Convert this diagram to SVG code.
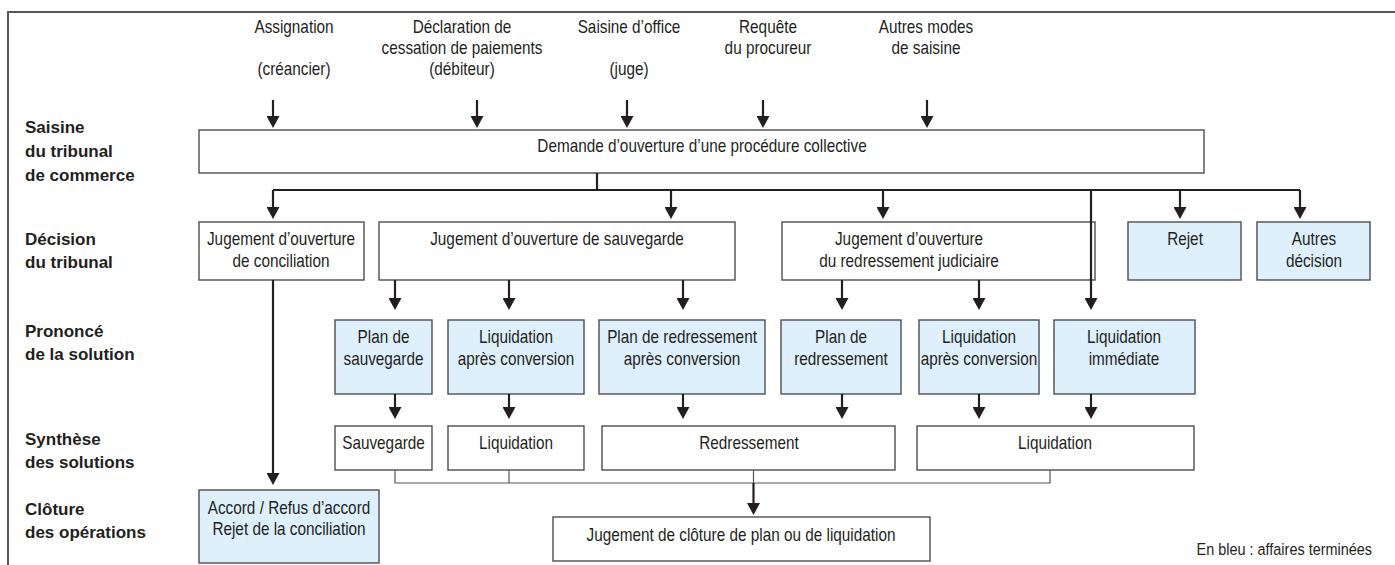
<svg xmlns="http://www.w3.org/2000/svg" width="1395" height="565" viewBox="0 0 1395 565">
<style>
text{font-family:"Liberation Sans",Arial,sans-serif;font-size:17.5px;fill:#231f20;text-anchor:middle;transform-box:fill-box;transform-origin:50% 50%;transform:scaleX(0.875)}
.lbl{font-size:17px;font-weight:bold;text-anchor:start;transform:none}
.leg{text-anchor:end;font-size:16.5px;transform-origin:100% 50%}
.box{fill:#ffffff;stroke:#4d4d4d;stroke-width:1.4}
.blue{fill:#ddf0fb;stroke:#4d4d4d;stroke-width:1.4}
.arr{stroke:#231f20;stroke-width:2.2;fill:none;marker-end:url(#ah)}
.ln{stroke:#231f20;stroke-width:2.2;fill:none}
.thin{stroke:#555;stroke-width:1.2;fill:none}
.frame{stroke:#555;stroke-width:2;fill:none}
</style>
<defs>
<marker id="ah" markerUnits="userSpaceOnUse" markerWidth="12" markerHeight="13" refX="8" refY="6.5" orient="auto">
<path d="M0,0 L12,6.5 L0,13 z" fill="#231f20"/>
</marker>
</defs>
<rect width="1395" height="565" fill="#ffffff"/>
<path class="frame" d="M8,565 V12 H1395"/>

<g id="labels">
<text class="lbl" x="25" y="133">Saisine</text>
<text class="lbl" x="25" y="157">du tribunal</text>
<text class="lbl" x="25" y="181">de commerce</text>
<text class="lbl" x="25" y="245">Décision</text>
<text class="lbl" x="25" y="268">du tribunal</text>
<text class="lbl" x="25" y="337">Prononcé</text>
<text class="lbl" x="25" y="360">de la solution</text>
<text class="lbl" x="25" y="445">Synthèse</text>
<text class="lbl" x="25" y="468">des solutions</text>
<text class="lbl" x="25" y="515">Clôture</text>
<text class="lbl" x="25" y="538">des opérations</text>
</g>

<g id="src-assignation"><text x="294" y="33">Assignation</text><text x="294" y="75">(créancier)</text></g>
<g id="src-declaration"><text x="462" y="33">Déclaration de</text><text x="462" y="54">cessation de paiements</text><text x="462" y="75">(débiteur)</text></g>
<g id="src-office"><text x="629" y="33">Saisine d’office</text><text x="629" y="75">(juge)</text></g>
<g id="src-requete"><text x="768" y="33">Requête</text><text x="768" y="54">du procureur</text></g>
<g id="src-autres"><text x="926" y="33">Autres modes</text><text x="926" y="54">de saisine</text></g>

<g id="demande"><rect class="box" x="199" y="130" width="1005" height="43"/><text x="702" y="152">Demande d’ouverture d’une procédure collective</text></g>

<g id="conciliation"><rect class="box" x="199" y="222" width="165" height="58"/><text x="281" y="245">Jugement d’ouverture</text><text x="281" y="267">de conciliation</text></g>
<g id="sauvegarde"><rect class="box" x="379" y="222" width="356" height="58"/><text x="557" y="245">Jugement d’ouverture de sauvegarde</text></g>
<g id="redressement-judiciaire"><rect class="box" x="782" y="222" width="313" height="58"/><text x="909" y="245">Jugement d’ouverture</text><text x="909" y="267">du redressement judiciaire</text></g>
<g id="rejet"><rect class="blue" x="1128" y="222" width="113" height="58"/><text x="1185" y="245">Rejet</text></g>
<g id="autres-decision"><rect class="blue" x="1257" y="222" width="113" height="58"/><text x="1314" y="245">Autres</text><text x="1314" y="267">décision</text></g>

<g id="plan-sauvegarde"><rect class="blue" x="335" y="320" width="97" height="74"/><text x="383.5" y="343">Plan de</text><text x="383.5" y="365">sauvegarde</text></g>
<g id="liq-conv-1"><rect class="blue" x="448" y="320" width="136" height="74"/><text x="516" y="343">Liquidation</text><text x="516" y="365">après conversion</text></g>
<g id="plan-redr-conv"><rect class="blue" x="599" y="320" width="166" height="74"/><text x="682" y="343">Plan de redressement</text><text x="682" y="365">après conversion</text></g>
<g id="plan-redr"><rect class="blue" x="781" y="320" width="120" height="74"/><text x="841" y="343">Plan de</text><text x="841" y="365">redressement</text></g>
<g id="liq-conv-2"><rect class="blue" x="919" y="320" width="120" height="74"/><text x="979" y="343">Liquidation</text><text x="979" y="365">après conversion</text></g>
<g id="liq-immediate"><rect class="blue" x="1054" y="320" width="141" height="74"/><text x="1124" y="343">Liquidation</text><text x="1124" y="365">immédiate</text></g>

<g id="syn-sauvegarde"><rect class="box" x="335" y="426" width="97" height="44"/><text x="383.5" y="449">Sauvegarde</text></g>
<g id="syn-liquidation-1"><rect class="box" x="448" y="426" width="136" height="44"/><text x="516" y="449">Liquidation</text></g>
<g id="syn-redressement"><rect class="box" x="602" y="426" width="293" height="44"/><text x="749" y="449">Redressement</text></g>
<g id="syn-liquidation-2"><rect class="box" x="917" y="426" width="277" height="44"/><text x="1055" y="449">Liquidation</text></g>

<g id="accord"><rect class="blue" x="199" y="490" width="180" height="73"/><text x="289" y="514">Accord / Refus d’accord</text><text x="289" y="535">Rejet de la conciliation</text></g>
<g id="cloture"><rect class="box" x="553" y="517" width="377" height="44"/><text x="741" y="541">Jugement de clôture de plan ou de liquidation</text></g>

<g id="legend"><text class="leg" x="1372" y="555">En bleu : affaires terminées</text></g>

<g id="connectors">
<path class="arr" d="M273,100 V124"/>
<path class="arr" d="M477,100 V124"/>
<path class="arr" d="M627,100 V124"/>
<path class="arr" d="M763,100 V124"/>
<path class="arr" d="M927,100 V124"/>
<path class="ln" d="M597,173 V190 M273,190 H1300"/>
<path class="arr" d="M273,190 V215"/>
<path class="arr" d="M671,190 V215"/>
<path class="arr" d="M883,190 V215"/>
<path class="arr" d="M1180,190 V215"/>
<path class="arr" d="M1300,190 V215"/>
<path class="arr" d="M1091,190 V306"/>
<path class="arr" d="M395,280 V306"/>
<path class="arr" d="M509,280 V306"/>
<path class="arr" d="M683,280 V306"/>
<path class="arr" d="M842,280 V306"/>
<path class="arr" d="M979,280 V306"/>
<path class="arr" d="M395,394 V415"/>
<path class="arr" d="M509,394 V415"/>
<path class="arr" d="M683,394 V415"/>
<path class="arr" d="M842,394 V415"/>
<path class="arr" d="M979,394 V415"/>
<path class="arr" d="M1091,394 V415"/>
<path class="arr" d="M273,280 V481"/>
<path class="thin" d="M395,470 V483 H1050 V470 M509,470 V483 M753.5,470 V483"/>
<path class="arr" d="M753.5,483 V511"/>
</g>
</svg>
